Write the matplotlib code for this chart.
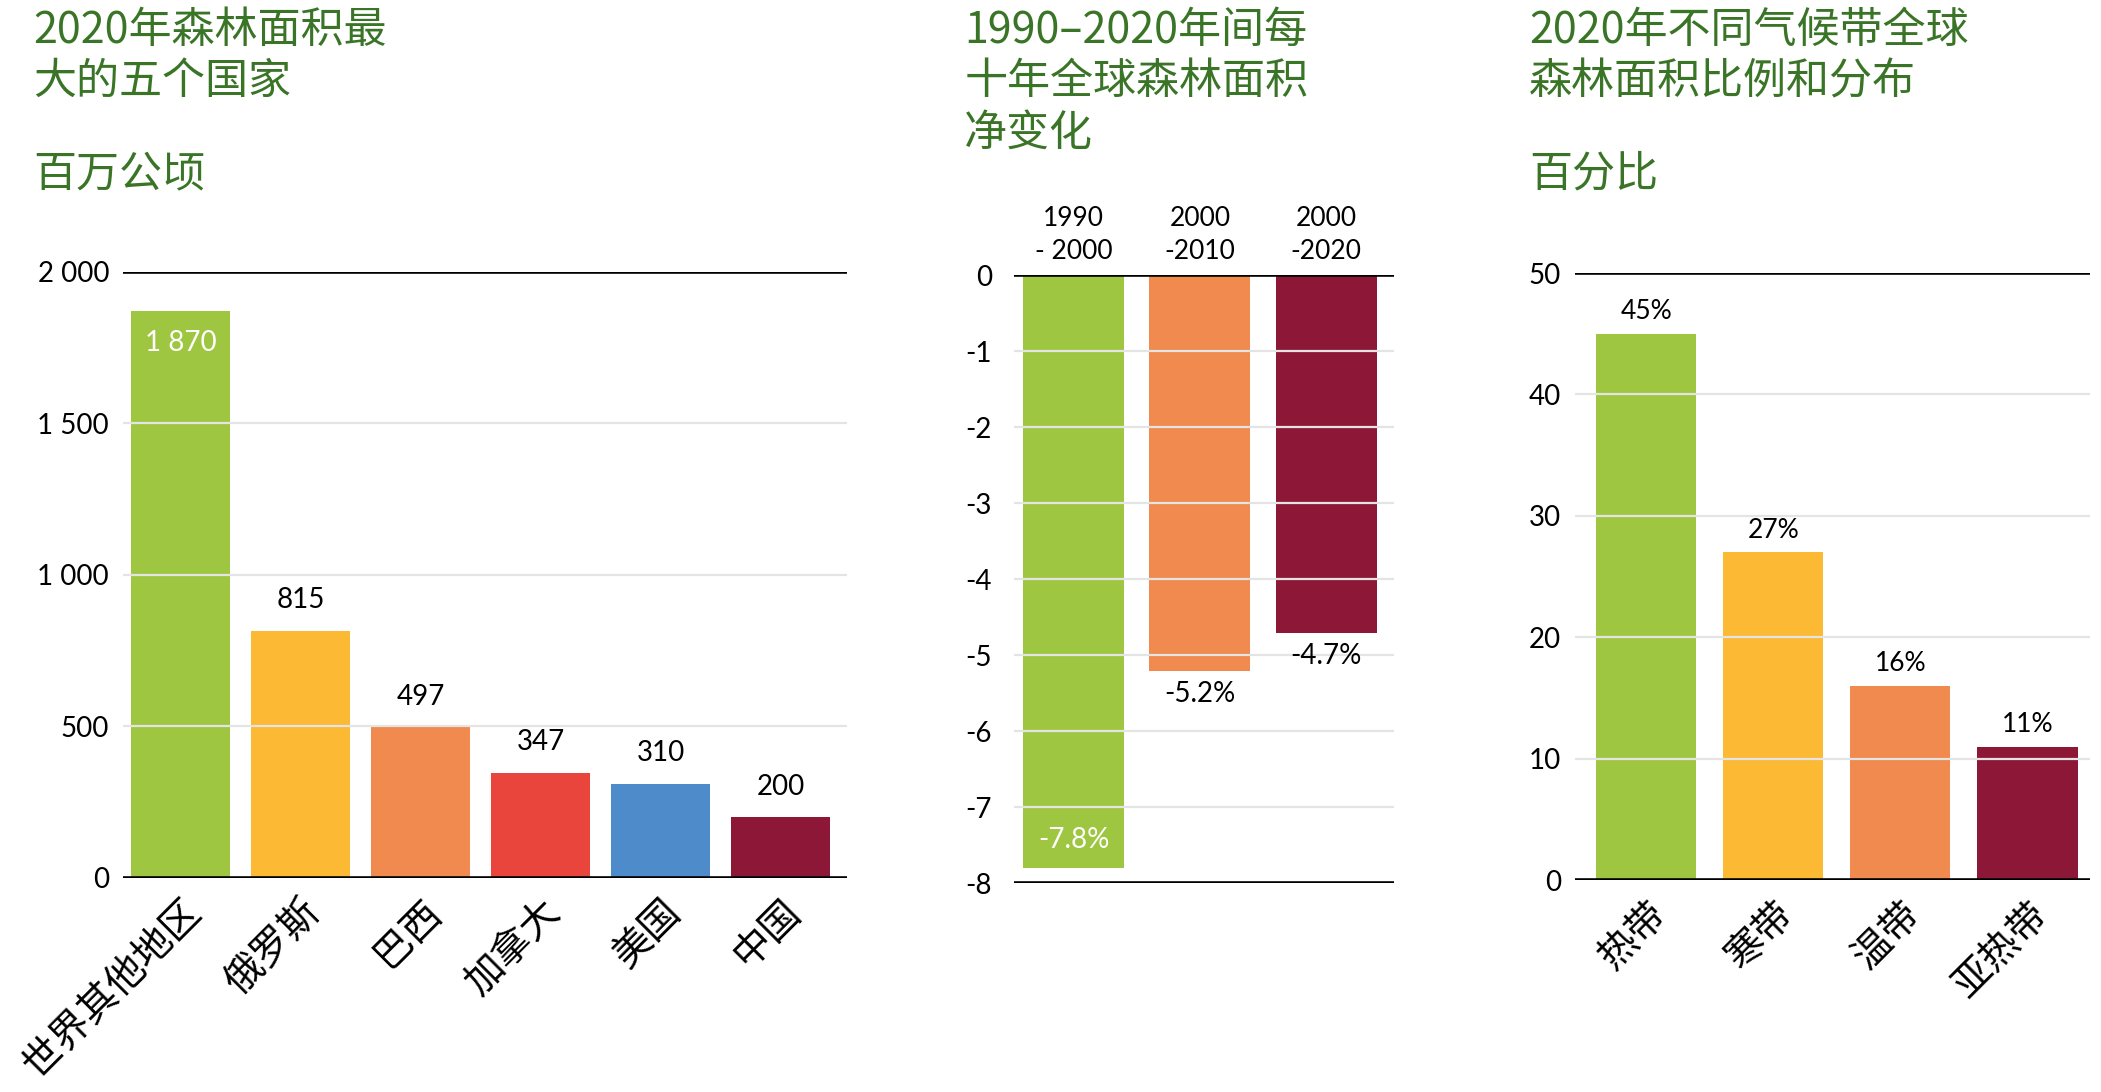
import matplotlib
matplotlib.use("Agg")
import matplotlib.pyplot as plt
import numpy as np

plt.rcParams['font.family'] = ['Lato', 'Noto Sans CJK SC', 'DejaVu Sans']

# panel 1: five countries with largest forest area, 2020
countries = ["世界其他地区", "俄罗斯", "巴西", "加拿大", "美国", "中国"]
area = [1870, 815, 497, 347, 310, 200]
area_labels = ["1 870", "815", "497", "347", "310", "200"]
area_colors = ["#9fc641", "#fbb934", "#f08a4f", "#e9453d", "#4e8bcb", "#8d1736"]

# panel 2: net change per decade
decades = ["1990\n- 2000", "2000\n-2010", "2000\n-2020"]
change = [-7.8, -5.2, -4.7]
change_labels = ["-7.8%", "-5.2%", "-4.7%"]
change_colors = ["#9fc641", "#f08a4f", "#8d1736"]

# panel 3: share by climate domain
zones = ["热带", "寒带", "温带", "亚热带"]
share = [45, 27, 16, 11]
share_labels = ["45%", "27%", "16%", "11%"]
share_colors = ["#9fc641", "#fbb934", "#f08a4f", "#8d1736"]

title_color = "#3a7527"
grid_color = "#e4e4e4"
cjk = ['Noto Sans CJK SC', 'DejaVu Sans']

fig = plt.figure(figsize=(21.01, 10.92), dpi=100)

ax1 = fig.add_axes([0.0585, 0.196, 0.3445, 0.555])
ax2 = fig.add_axes([0.4827, 0.191, 0.181, 0.557])
ax3 = fig.add_axes([0.7496, 0.194, 0.245, 0.556])


def style(ax, lo, hi, step, fmt):
    for s in ax.spines.values():
        s.set_visible(False)
    ticks = np.arange(lo, hi + step / 2, step)
    ax.set_yticks(ticks)
    ax.set_yticklabels([fmt(t) for t in ticks], fontsize=20)
    ax.set_ylim(lo, hi)
    ax.tick_params(axis='y', length=0, pad=10)
    ax.tick_params(axis='x', length=0)
    ax.yaxis.grid(True, color=grid_color, lw=1.6, zorder=3)
    ax.set_axisbelow(False)
    ax.axhline(lo, color='black', lw=2.6, zorder=4)
    ax.axhline(hi, color='black', lw=2.6, zorder=4)


# ---- panel 1
x1 = np.arange(len(countries))
ax1.bar(x1, area, width=0.83, color=area_colors, zorder=2)
style(ax1, 0, 2000, 500, lambda t: f"{int(t):,}".replace(",", " "))
ax1.set_xlim(-0.48, 5.55)
ax1.set_xticks(x1)
ax1.set_xticklabels(countries, rotation=45, ha='right', va='top',
                    rotation_mode='anchor', fontsize=28, family=cjk)
ax1.tick_params(axis='x', pad=10)
for i, (v, lab) in enumerate(zip(area, area_labels)):
    if v > 1500:
        ax1.annotate(lab, (i, v), xytext=(0, -23), textcoords='offset points',
                     ha='center', va='center', color='white', fontsize=20, zorder=5)
    else:
        ax1.annotate(lab, (i, v), xytext=(0, 22), textcoords='offset points',
                     ha='center', va='center', color='black', fontsize=20, zorder=5)

# ---- panel 2
x2 = np.arange(len(decades))
ax2.bar(x2, change, width=0.8, color=change_colors, zorder=2)
style(ax2, -8, 0, 1, lambda t: f"{int(t)}")
ax2.tick_params(axis='y', pad=16)
ax2.set_xlim(-0.47, 2.54)
ax2.xaxis.tick_top()
ax2.set_xticks(x2)
ax2.set_xticklabels(decades, fontsize=19, linespacing=1.4)
ax2.tick_params(axis='x', pad=8)
for i, (v, lab) in enumerate(zip(change, change_labels)):
    if v < -7:
        ax2.annotate(lab, (i, v), xytext=(0, 20), textcoords='offset points',
                     ha='center', va='center', color='white', fontsize=20, zorder=5)
    else:
        ax2.annotate(lab, (i, v), xytext=(0, -17), textcoords='offset points',
                     ha='center', va='center', color='black', fontsize=20, zorder=5)

# ---- panel 3
x3 = np.arange(len(zones))
ax3.bar(x3, share, width=0.79, color=share_colors, zorder=2)
style(ax3, 0, 50, 10, lambda t: f"{int(t)}")
ax3.set_xlim(-0.56, 3.49)
ax3.set_xticks(x3)
ax3.set_xticklabels(zones, rotation=45, ha='right', va='top',
                    rotation_mode='anchor', fontsize=28, family=cjk)
ax3.tick_params(axis='x', pad=10)
for i, (v, lab) in enumerate(zip(share, share_labels)):
    ax3.annotate(lab, (i, v), xytext=(0, 16), textcoords='offset points',
                 ha='center', va='center', color='black', fontsize=19, zorder=5)

# ---- titles
fig.text(0.0157, 0.992, "2020年森林面积最\n大的五个国家", ha='left', va='top',
         fontsize=31, color=title_color, family=cjk, linespacing=1.22)
fig.text(0.0157, 0.840, "百万公顷", ha='left', va='center',
         fontsize=31, color=title_color, family=cjk)
fig.text(0.4590, 0.992, "1990–2020年间每\n十年全球森林面积\n净变化", ha='left', va='top',
         fontsize=31, color=title_color, family=cjk, linespacing=1.22)
fig.text(0.7277, 0.992, "2020年不同气候带全球\n森林面积比例和分布", ha='left', va='top',
         fontsize=31, color=title_color, family=cjk, linespacing=1.22)
fig.text(0.7277, 0.840, "百分比", ha='left', va='center',
         fontsize=31, color=title_color, family=cjk)

fig.savefig("out.png", dpi=100, facecolor='white')
